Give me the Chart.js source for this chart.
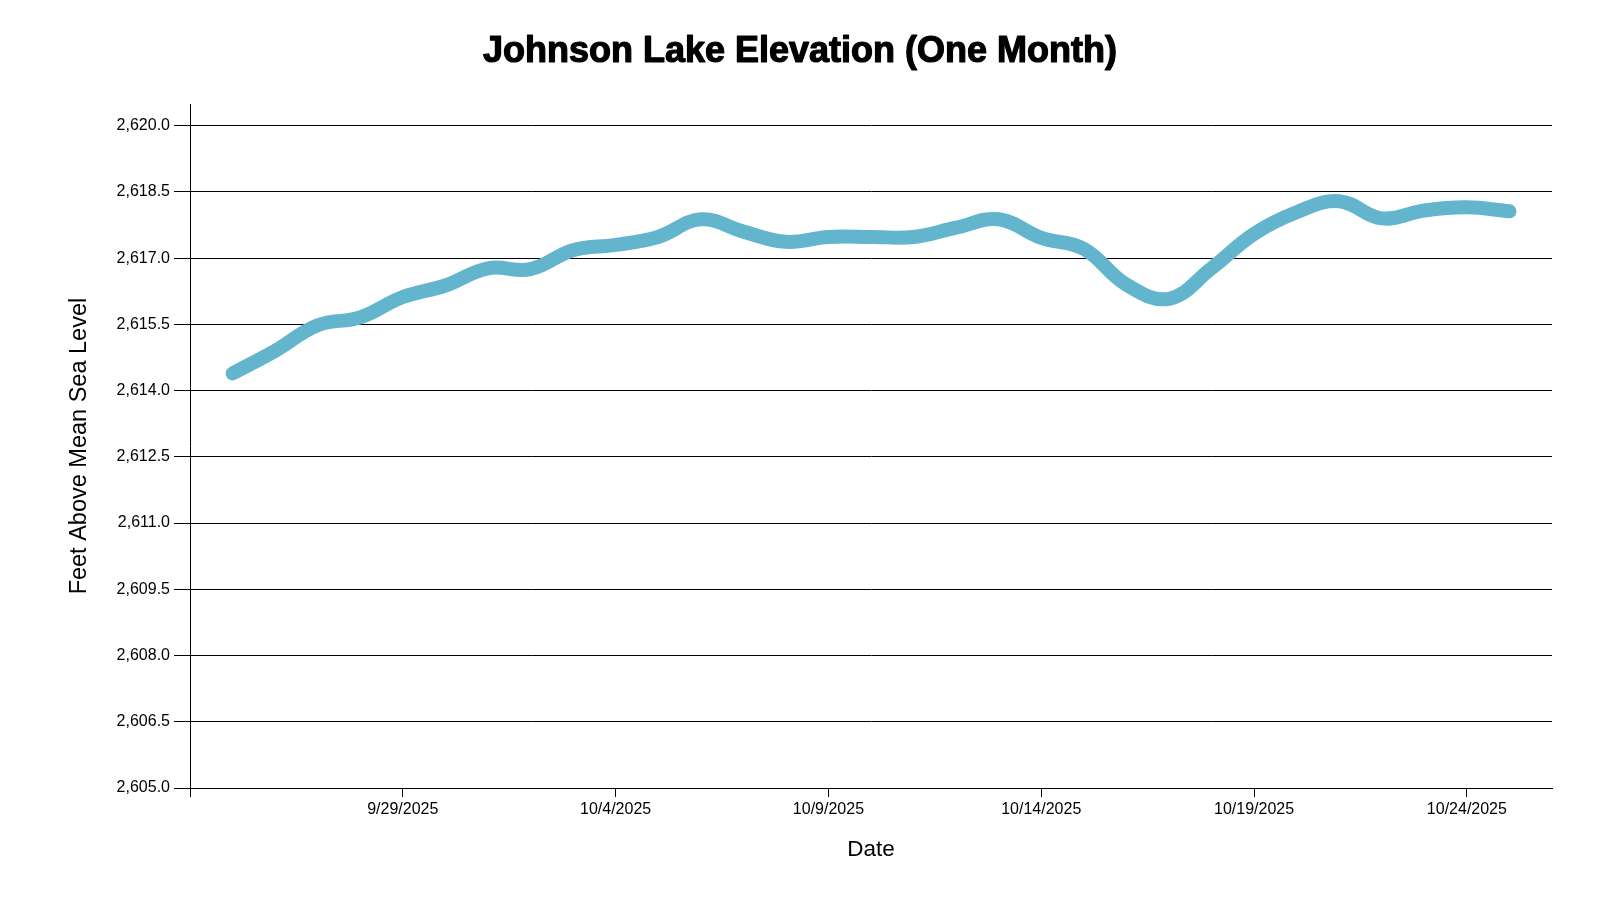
<!DOCTYPE html>
<html>
<head>
<meta charset="utf-8">
<title>Johnson Lake Elevation</title>
<script src="https://cdn.jsdelivr.net/npm/chart.js@4.4.0/dist/chart.umd.min.js"></script>
<style>
  html, body { margin: 0; padding: 0; background: #fff; }
  #wrap { width: 1600px; height: 900px; }
</style>
</head>
<body>
<div id="wrap"><canvas id="lakeChart" width="1600" height="900"></canvas></div>
<script>
// Datos (un valor por día)
const dates = [
    '9/25/2025', '9/26/2025', '9/27/2025', '9/28/2025', '9/29/2025', '9/30/2025',
    '10/1/2025', '10/2/2025', '10/3/2025', '10/4/2025', '10/5/2025', '10/6/2025',
    '10/7/2025', '10/8/2025', '10/9/2025', '10/10/2025', '10/11/2025', '10/12/2025',
    '10/13/2025', '10/14/2025', '10/15/2025', '10/16/2025', '10/17/2025', '10/18/2025',
    '10/19/2025', '10/20/2025', '10/21/2025', '10/22/2025', '10/23/2025', '10/24/2025',
    '10/25/2025'
];
const elevations = [
    2614.39, 2614.90, 2615.48, 2615.66, 2616.12, 2616.38,
    2616.77, 2616.75, 2617.18, 2617.30, 2617.48, 2617.88,
    2617.60, 2617.37, 2617.48, 2617.48, 2617.48, 2617.69,
    2617.88, 2617.46, 2617.21, 2616.40, 2616.08, 2616.77,
    2617.55, 2618.04, 2618.29, 2617.90, 2618.08, 2618.15,
    2618.06
];
const xStart = '9/24/2025';
const xEnd = '10/26/2025';
const xTickDates = ['9/29/2025', '10/4/2025', '10/9/2025', '10/14/2025', '10/19/2025', '10/24/2025'];
const yTicks = [2605.0, 2606.5, 2608.0, 2609.5, 2611.0, 2612.5, 2614.0, 2615.5, 2617.0, 2618.5, 2620.0];

const DAY = 24 * 3600 * 1000;
function parseDate(s) {
    const p = s.split('/');
    return Date.UTC(+p[2], +p[0] - 1, +p[1]);
}
function dayOffset(s) {
    return Math.round((parseDate(s) - parseDate(xStart)) / DAY);
}
function offsetLabel(v) {
    const d = new Date(parseDate(xStart) + v * DAY);
    return (d.getUTCMonth() + 1) + '/' + d.getUTCDate() + '/' + d.getUTCFullYear();
}

const points = dates.map((d, i) => ({ x: dayOffset(d), y: elevations[i] }));
const fontFamily = "Arial, 'Liberation Sans', sans-serif";
const titleText = 'Johnson Lake Elevation (One Month)';
const titleFont = { family: fontFamily, size: 36, weight: 'bold' };

// Trazo extra sobre el título para que se vea más grueso
const titleStroke = {
    id: 'titleStroke',
    afterDraw(chart) {
        const tb = chart.titleBlock;
        if (!tb) return;
        const c = chart.ctx;
        c.save();
        c.font = 'bold ' + titleFont.size + 'px ' + fontFamily;
        c.textAlign = 'center';
        c.textBaseline = 'middle';
        c.strokeStyle = '#000';
        c.lineWidth = 1.2;
        c.lineJoin = 'round';
        const lh = titleFont.size * 1.2;
        c.strokeText(titleText, tb.left + tb.width / 2, tb.top + tb.options.padding.top + lh / 2);
        c.restore();
    }
};

const ctx = document.getElementById('lakeChart').getContext('2d');
const lakeChart = new Chart(ctx, {
    type: 'line',
    data: {
        datasets: [{
            label: 'Elevation',
            data: points,
            borderColor: '#63b5ce',
            backgroundColor: '#63b5ce',
            borderWidth: 14,
            borderCapStyle: 'round',
            borderJoinStyle: 'round',
            pointRadius: 0,
            pointHoverRadius: 0,
            tension: 0.4,
            fill: false
        }]
    },
    options: {
        responsive: false,
        animation: false,
        devicePixelRatio: 1,
        layout: {
            padding: 0
        },
        scales: {
            x: {
                type: 'linear',
                min: dayOffset(xStart),
                max: dayOffset(xEnd),
                afterBuildTicks: function(scale) {
                    scale.ticks = [{ value: 0 }].concat(xTickDates.map(d => ({ value: dayOffset(d) })));
                },
                afterFit: function(scale) {
                    scale.height = 112;
                },
                grid: {
                    drawOnChartArea: false,
                    drawTicks: true,
                    tickLength: 9,
                    color: '#000'
                },
                border: { display: true, color: '#000', width: 1 },
                ticks: {
                    padding: 3,
                    color: '#000',
                    maxRotation: 0,
                    autoSkip: false,
                    font: { family: fontFamily, size: 16 },
                    callback: function(value) {
                        return value === 0 ? '' : offsetLabel(value);
                    }
                },
                title: {
                    display: true,
                    text: 'Date',
                    color: '#000',
                    font: { family: fontFamily, size: 22.5 },
                    padding: { top: 0, bottom: 37 }
                }
            },
            y: {
                type: 'linear',
                min: 2605,
                max: 2620.486,
                afterBuildTicks: function(scale) {
                    scale.ticks = yTicks.map(v => ({ value: v }));
                },
                afterFit: function(scale) {
                    scale.width = 190;
                },
                grid: {
                    color: '#000',
                    lineWidth: 1,
                    drawTicks: true,
                    tickLength: 16
                },
                border: { display: true, color: '#000', width: 1 },
                ticks: {
                    padding: 4,
                    color: '#000',
                    autoSkip: false,
                    font: { family: fontFamily, size: 16 },
                    callback: function(value) {
                        return value.toLocaleString('en-US', { minimumFractionDigits: 1, maximumFractionDigits: 1 });
                    }
                },
                title: {
                    display: true,
                    text: 'Feet Above Mean Sea Level',
                    color: '#000',
                    font: { family: fontFamily, size: 23.5 },
                    padding: { top: 65, bottom: 0 }
                }
            },
            // eje vacío a la derecha, sólo para dejar el margen derecho
            yRight: {
                type: 'linear',
                position: 'right',
                display: true,
                grid: { display: false },
                border: { display: false },
                ticks: { display: false },
                afterFit: function(scale) {
                    scale.width = 48;
                }
            }
        },
        plugins: {
            legend: { display: false },
            tooltip: { enabled: false },
            title: {
                display: true,
                text: titleText,
                color: '#000',
                font: titleFont,
                padding: { top: 30, bottom: 31 }
            }
        }
    },
    plugins: [titleStroke]
});
</script>
</body>
</html>
